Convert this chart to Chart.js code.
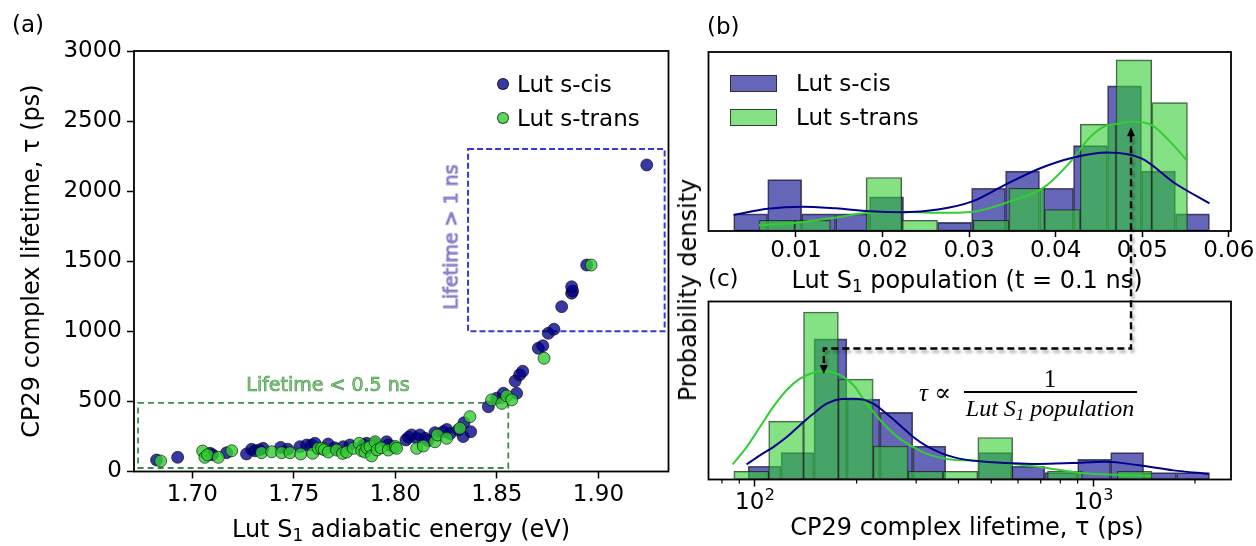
<!DOCTYPE html>
<html><head><meta charset="utf-8">
<script src="https://cdn.jsdelivr.net/npm/chart.js@4.4.1/dist/chart.umd.min.js"></script>
<style>
html,body{margin:0;padding:0;background:#fff;}
#wrap{position:relative;width:1256px;height:546px;overflow:hidden;font-family:"DejaVu Sans",sans-serif;color:#000;}
#wrap canvas{position:absolute;}
.t{position:absolute;white-space:nowrap;line-height:1;font-size:23px;}
.ax{font-size:24px;}
.c{transform:translate(-50%,-50%);}
.r{transform:translate(-50%,-50%) rotate(-90deg);}
.l{transform:translateY(-50%);}
.t sub{font-size:70%;vertical-align:-0.25em;line-height:0;}
.mk{position:absolute;width:12px;height:12px;border-radius:50%;box-sizing:border-box;border:1px solid rgba(0,0,0,0.65);transform:translate(-50%,-50%);}
.pt{position:absolute;box-sizing:border-box;border:1px solid rgba(30,30,30,0.8);}
.ser{font-family:"Liberation Serif","DejaVu Serif",serif;}
</style></head><body>
<div id="wrap">
 <canvas id="ca" width="680" height="546" style="left:0;top:0"></canvas>
 <canvas id="cb" width="566" height="265" style="left:690px;top:0"></canvas>
 <canvas id="cc" width="566" height="281" style="left:690px;top:265px"></canvas>
 <canvas id="ov" width="1256" height="546" style="left:0;top:0;pointer-events:none"></canvas>

 <div class="t" style="left:12px;top:13px">(a)</div>
 <div class="t" style="left:707px;top:15px">(b)</div>
 <div class="t" style="left:708px;top:267px">(c)</div>

 <div class="t ax r" style="left:31px;top:261px">CP29 complex lifetime, τ (ps)</div>
 <div class="t ax c" style="left:401px;top:529px">Lut S<sub>1</sub> adiabatic energy (eV)</div>

 <div class="t c" style="left:328px;top:384px;font-size:19px;color:rgb(140,208,140);-webkit-text-stroke:0.7px rgb(70,150,70);">Lifetime &lt; 0.5 ns</div>
 <div class="t r" style="left:451px;top:237px;font-size:19px;color:rgb(165,155,222);-webkit-text-stroke:0.7px rgb(95,85,175);">Lifetime &gt; 1 ns</div>

 <div class="mk" style="left:503px;top:84px;background:rgba(0,0,139,0.78)"></div>
 <div class="mk" style="left:503px;top:118px;background:rgba(50,205,50,0.8)"></div>
 <div class="t l" style="left:517px;top:84px">Lut s-cis</div>
 <div class="t l" style="left:517px;top:118px">Lut s-trans</div>

 <div class="pt" style="left:730px;top:75px;width:47px;height:17px;background:rgba(0,0,139,0.6)"></div>
 <div class="pt" style="left:730px;top:109px;width:47px;height:17px;background:rgba(50,205,50,0.6)"></div>
 <div class="t l" style="left:796px;top:83px">Lut s-cis</div>
 <div class="t l" style="left:796px;top:117px">Lut s-trans</div>

 <div class="t ax r" style="left:688px;top:290px">Probability density</div>
 <div class="t ax c" style="left:967px;top:280px">Lut S<sub>1</sub> population (t = 0.1 ns)</div>
 <div class="t ax c" style="left:967px;top:527px">CP29 complex lifetime, τ (ps)</div>

 <div class="t c ser" style="left:935px;top:392px;font-size:25px;font-style:italic">τ ∝</div>
 <div class="t c ser" style="left:1050px;top:378px;font-size:25px">1</div>
 <div style="position:absolute;left:964px;top:391px;width:173px;height:0;border-top:2px solid #000"></div>
 <div class="t c ser" style="left:1050px;top:408px;font-size:24px;font-style:italic">Lut S<sub>1</sub> population</div>
</div>
<script>
// ---------------- data ----------------
// (a) scatter: Lut S1 adiabatic energy (eV) vs CP29 lifetime (ps)
const sCisE = [1.6824,1.6928,1.7087,1.7100,1.7169,1.7267,1.7292,1.7308,1.7330,1.7349,1.7435,1.7470,1.7530,1.7563,1.7588,1.7604,1.7669,1.7700,1.7743,1.7776,1.7842,1.7858,1.7899,1.7957,1.7965,1.7990,1.8052,1.8065,1.8080,1.8105,1.8121,1.8146,1.8160,1.8195,1.8236,1.8253,1.8270,1.8310,1.8334,1.8338,1.8371,1.8458,1.8499,1.8532,1.8597,1.8590,1.8612,1.8627,1.8704,1.8726,1.8753,1.8781,1.8819,1.8868,1.8873,1.8868,1.8942,1.9238];
const sCisTau = [82,101,130,119,134,125,158,148,154,165,172,159,177,189,189,201,196,169,177,189,189,201,201,212,189,174,225,245,261,237,261,237,220,277,284,300,270,296,249,348,284,462,523,558,558,645,690,715,879,897,986,1015,1176,1272,1288,1318,1473,2187];
const sTransE = [1.6844,1.7051,1.7062,1.7075,1.7128,1.7194,1.7341,1.7391,1.7440,1.7481,1.7534,1.7593,1.7620,1.7637,1.7650,1.7670,1.7711,1.7740,1.7760,1.7793,1.7822,1.7834,1.7850,1.7860,1.7875,1.7883,1.7900,1.7910,1.7930,1.7965,1.8000,1.8006,1.8105,1.8138,1.8195,1.8207,1.8253,1.8318,1.8367,1.8474,1.8524,1.8548,1.8573,1.8732,1.8964];
const sTransTau = [75,146,101,119,101,148,134,141,134,134,125,130,165,165,155,139,153,129,139,165,201,148,139,169,177,111,212,154,169,153,179,165,165,182,212,261,237,308,391,511,486,539,511,808,1473];

// (b) histogram of Lut S1 population (bin centres, density)
const popBinsCis = [0.00477,0.00870,0.01262,0.01655,0.02047,0.02440,0.02832,0.03225,0.03617,0.04010,0.04402,0.04795,0.05187,0.05580];
const popDensCis = [7.2,21.5,7.2,7.2,14.3,0,3.6,17.9,25.1,17.9,35.8,60.8,25.1,7.2];
const popBinsTrans = [0.00779,0.01192,0.01604,0.02016,0.02429,0.02841,0.03254,0.03666,0.04078,0.04491,0.04903,0.05316];
const popDensTrans = [4.5,4.5,0,22.4,4.5,0,4.5,17.9,9.0,44.8,71.7,53.8];
const popKdeCisX = [0.00281,0.00675,0.01068,0.01458,0.01852,0.02247,0.0264,0.0303,0.03425,0.03815,0.04208,0.04598,0.04991,0.05381,0.05776];
const popKdeCisY = [6.7,9.3,10.2,9.5,8.3,7.9,9.0,12.3,19.5,26.2,30.8,32.9,30.4,19.9,11.6];
const popKdeTransX = [0.00573,0.00986,0.0140,0.01809,0.02223,0.0264,0.0305,0.03463,0.03872,0.04188,0.04383,0.04578,0.04700,0.04871,0.05109,0.05359,0.05522];
const popKdeTransY = [2.4,3.4,5.3,7.5,8.1,7.6,8.1,12.3,18.5,29.7,38.8,44.1,44.8,45.9,44.4,36.0,29.3];

// (c) histogram of CP29 lifetime (log axis; bin centres in ps, density)
const tauBinsCis = [106.9,133.8,167.4,209.5,262.1,328.1,410.6,513.9,643.2,804.8,1007.2,1260.6,1577.6,1974.3];
const tauDensCis = [0.29,0.59,3.08,1.76,1.47,0.73,0,0.59,0.29,0.15,0.44,0.59,0.15,0.15];
const tauBinsTrans = [97.65,123.8,156.9,198.9,252.2,319.7,405.3,513.7,651.2,825.3,1046.2,1326.1];
const tauDensTrans = [0.18,1.28,3.67,2.20,0.73,0.18,0.18,0.92,0,0.18,0,0.18];
const tauKdeCisX = [94.6,103.6,113.4,124.3,136.0,148.9,163.1,178.6,195.6,209.3,224.0,245.4,268.7,294.1,322.2,352.7,386.2,423.0,463.3,687.3,864.9,1089,1370,1725,2196];
const tauKdeCisY = [0.33,0.53,0.71,0.93,1.19,1.44,1.66,1.76,1.77,1.75,1.66,1.44,1.19,0.93,0.73,0.59,0.49,0.43,0.40,0.34,0.36,0.39,0.31,0.20,0.12];
const tauKdeTransX = [86.0,94.6,103.6,113.4,124.3,136.0,148.9,157.7,166.9,182.7,195.6,209.3,224.0,245.4,268.7,294.1,322.2,352.7,386.2,423.0,463.3,687.3,927.3,1485];
const tauKdeTransY = [0.33,0.71,1.15,1.59,1.96,2.21,2.34,2.37,2.36,2.25,2.07,1.77,1.48,1.15,0.89,0.71,0.56,0.48,0.43,0.42,0.41,0.28,0.14,0.08];

// tick labels
const energyTicks = [1.70,1.75,1.80,1.85,1.90];
const lifetimeTicks = [0,500,1000,1500,2000,2500,3000];
const popTicks = [0.01,0.02,0.03,0.04,0.05,0.06];
const tauMajorTicks = [100,1000];
const tauMajorBase = ['10','10'];
const tauMajorExp = ['2','3'];
const tauMinorTicks = [80,90,200,300,400,500,600,700,800,900,2000];

// annotation regions (data units)
const shortBox = [1.6733,1.8556,25,490];   // E min, E max, tau min, tau max
const longBox = [1.8358,1.9326,1000,2300];
const arrowPop = [0.0487,43.5];            // population, density at arrow tip (b)
const arrowTau = [160,2.31,2.87];          // tau, density at tip, density at elbow (c)

// ---------------- helpers ----------------
Chart.defaults.font.family = 'DejaVu Sans';
const FONT = {family:'DejaVu Sans', size:23};
const xy = (xs, ys) => xs.map((x,i)=>({x:x, y:ys[i]}));
const grid = len => ({display:true, drawOnChartArea:false, drawTicks:true, tickLength:len, tickWidth:1.5, tickColor:'#000', offset:false});
const setTicks = arr => (s => { s.ticks = arr.map(v=>({value:v})); });
const framePlugin = {id:'frame', afterDraw(chart){
  const a = chart.chartArea, ctx = chart.ctx;
  ctx.save(); ctx.strokeStyle='#000'; ctx.lineWidth=1.8;
  ctx.strokeRect(a.left, a.top, a.right-a.left, a.bottom-a.top); ctx.restore();
}};
const CIS_BAR = 'rgba(0,0,139,0.6)', TRANS_BAR = 'rgba(50,205,50,0.6)';
const CIS_LINE = '#00008b', TRANS_LINE = '#32cd32';
const EDGE = 'rgba(30,30,30,0.75)';
const barDs = (xs, ys, col, axis, order) => ({type:'bar', data:xy(xs,ys), backgroundColor:col, borderColor:EDGE, borderWidth:1, borderSkipped:false, grouped:false, barPercentage:1, categoryPercentage:1, xAxisID:axis, order:order});
const lineDs = (xs, ys, col) => ({type:'line', data:xy(xs,ys), borderColor:col, borderWidth:2, pointRadius:0, fill:false, cubicInterpolationMode:'monotone', xAxisID:'x', order:0});

// ---------------- (a) ----------------
const boxesPlugin = {id:'boxes', beforeDatasetsDraw(chart){
  const x = chart.scales.x, y = chart.scales.y, ctx = chart.ctx;
  const rect = (b, col, dash, w) => {
    const x0 = x.getPixelForValue(b[0]), x1 = x.getPixelForValue(b[1]);
    const y0 = y.getPixelForValue(b[3]), y1 = y.getPixelForValue(b[2]);
    ctx.save(); ctx.strokeStyle = col; ctx.setLineDash(dash); ctx.lineWidth = w;
    ctx.strokeRect(x0, y0, x1-x0, y1-y0); ctx.restore();
  };
  rect(shortBox, 'rgb(60,140,80)', [6,4], 1.8);
  rect(longBox, 'rgb(55,55,215)', [6,3], 2);
}};
new Chart(document.getElementById('ca'), {
  type:'scatter',
  data:{datasets:[
    {label:'Lut s-trans', data:xy(sTransE,sTransTau), backgroundColor:'rgba(50,205,50,0.8)', borderColor:'rgba(0,0,0,0.6)', borderWidth:1, pointRadius:6, order:0},
    {label:'Lut s-cis', data:xy(sCisE,sCisTau), backgroundColor:'rgba(0,0,139,0.78)', borderColor:'rgba(0,0,0,0.6)', borderWidth:1, pointRadius:6, order:1}
  ]},
  options:{
    responsive:false, animation:false, events:[],
    layout:{padding:{top:51, right:11.5, left:0, bottom:0}},
    plugins:{legend:{display:false}, tooltip:{enabled:false}},
    scales:{
      x:{type:'linear', min:1.6713, max:1.9345, afterBuildTicks:setTicks(energyTicks), afterFit:s=>{s.height=74.5;},
         ticks:{font:FONT, color:'#000', padding:3, maxRotation:0, autoSkip:false, callback:v=>Number(v).toFixed(2)},
         grid:grid(7), border:{display:false}},
      y:{type:'linear', min:0, max:3000, afterBuildTicks:setTicks(lifetimeTicks), afterFit:s=>{s.width=134;},
         ticks:{font:FONT, color:'#000', padding:5, autoSkip:false, callback:v=>String(v)},
         grid:grid(7), border:{display:false}}
    }
  },
  plugins:[boxesPlugin, framePlugin]
});

// ---------------- (b) ----------------
const chartB = new Chart(document.getElementById('cb'), {
  type:'bar',
  data:{datasets:[
    lineDs(popKdeCisX, popKdeCisY, CIS_LINE),
    lineDs(popKdeTransX, popKdeTransY, TRANS_LINE),
    barDs(popBinsTrans, popDensTrans, TRANS_BAR, 'x2', 1),
    barDs(popBinsCis, popDensCis, CIS_BAR, 'x', 2)
  ]},
  options:{
    responsive:false, animation:false, events:[],
    layout:{padding:{top:52, right:25, left:18.5, bottom:0}},
    plugins:{legend:{display:false}, tooltip:{enabled:false}},
    scales:{
      x:{type:'linear', offset:false, min:-0.0001, max:0.06025, afterBuildTicks:setTicks(popTicks), afterFit:s=>{s.height=34;},
         ticks:{font:FONT, color:'#000', padding:0, maxRotation:0, autoSkip:false, callback:v=>Number(v).toFixed(2)},
         grid:grid(6), border:{display:false}},
      x2:{type:'linear', display:false, offset:false, min:-0.0001, max:0.06025, afterBuildTicks:setTicks(popTicks), grid:{offset:false}},
      y:{type:'linear', display:false, min:0, max:75}
    }
  },
  plugins:[framePlugin]
});

// ---------------- (c) ----------------
const minorPlugin = {id:'minor', afterDraw(chart){
  const s = chart.scales.x, a = chart.chartArea, ctx = chart.ctx;
  ctx.save(); ctx.strokeStyle='#000'; ctx.lineWidth=1.2;
  tauMinorTicks.forEach(v=>{ const p = s.getPixelForValue(v);
    if (p < a.left || p > a.right) return;
    ctx.beginPath(); ctx.moveTo(p, a.bottom); ctx.lineTo(p, a.bottom+4); ctx.stroke(); });
  // major tick labels as 10^n with a raised exponent
  ctx.fillStyle = '#000'; ctx.textBaseline = 'alphabetic'; ctx.textAlign = 'left';
  tauMajorTicks.forEach((v,i)=>{
    const p = s.getPixelForValue(v);
    ctx.font = '23px "DejaVu Sans"'; const w1 = ctx.measureText(tauMajorBase[i]).width;
    ctx.font = '16px "DejaVu Sans"'; const w2 = ctx.measureText(tauMajorExp[i]).width;
    const x0 = p - (w1 + w2)/2, base = a.bottom + 29;
    ctx.font = '23px "DejaVu Sans"'; ctx.fillText(tauMajorBase[i], x0, base);
    ctx.font = '16px "DejaVu Sans"'; ctx.fillText(tauMajorExp[i], x0 + w1 + 0.5, base - 9);
  });
  ctx.restore();
}};
const chartC = new Chart(document.getElementById('cc'), {
  type:'bar',
  data:{datasets:[
    lineDs(tauKdeCisX, tauKdeCisY, CIS_LINE),
    lineDs(tauKdeTransX, tauKdeTransY, TRANS_LINE),
    barDs(tauBinsTrans, tauDensTrans, TRANS_BAR, 'x2', 1),
    barDs(tauBinsCis, tauDensCis, CIS_BAR, 'x', 2)
  ]},
  options:{
    responsive:false, animation:false, events:[],
    layout:{padding:{top:36.5, right:25, left:18.5, bottom:0}},
    plugins:{legend:{display:false}, tooltip:{enabled:false}},
    scales:{
      x:{type:'logarithmic', offset:false, min:73, max:2556, afterBuildTicks:setTicks(tauMajorTicks), afterFit:s=>{s.height=66.5;},
         ticks:{font:FONT, color:'#000', padding:0, maxRotation:0, autoSkip:false, callback:()=>''},
         grid:grid(7), border:{display:false}},
      x2:{type:'logarithmic', display:false, offset:false, min:73, max:2556, afterBuildTicks:setTicks(tauMajorTicks), grid:{offset:false}},
      y:{type:'linear', display:false, min:0, max:3.9}
    }
  },
  plugins:[minorPlugin, framePlugin]
});

// ---------------- connector arrow ----------------
(function(){
  const ctx = document.getElementById('ov').getContext('2d');
  const bx = 690 + chartB.scales.x.getPixelForValue(arrowPop[0]);
  const by = chartB.scales.y.getPixelForValue(arrowPop[1]);
  const cx = 690 + chartC.scales.x.getPixelForValue(arrowTau[0]);
  const cy = 265 + chartC.scales.y.getPixelForValue(arrowTau[1]);
  const ey = 265 + chartC.scales.y.getPixelForValue(arrowTau[2]);
  ctx.save();
  ctx.strokeStyle = '#000'; ctx.lineWidth = 2.4; ctx.setLineDash([7,4]);
  ctx.shadowColor = 'rgba(0,0,0,0.35)'; ctx.shadowBlur = 3; ctx.shadowOffsetX = 2; ctx.shadowOffsetY = 3;
  ctx.beginPath(); ctx.moveTo(bx, by+8); ctx.lineTo(bx, ey); ctx.lineTo(cx, ey); ctx.lineTo(cx, cy-8); ctx.stroke();
  ctx.restore();
  ctx.save(); ctx.fillStyle = '#000';
  ctx.beginPath(); ctx.moveTo(bx, by); ctx.lineTo(bx-4, by+9); ctx.lineTo(bx+4, by+9); ctx.closePath(); ctx.fill();
  ctx.beginPath(); ctx.moveTo(cx, cy); ctx.lineTo(cx-4, cy-9); ctx.lineTo(cx+4, cy-9); ctx.closePath(); ctx.fill();
  ctx.restore();
})();
</script>
</body></html>
